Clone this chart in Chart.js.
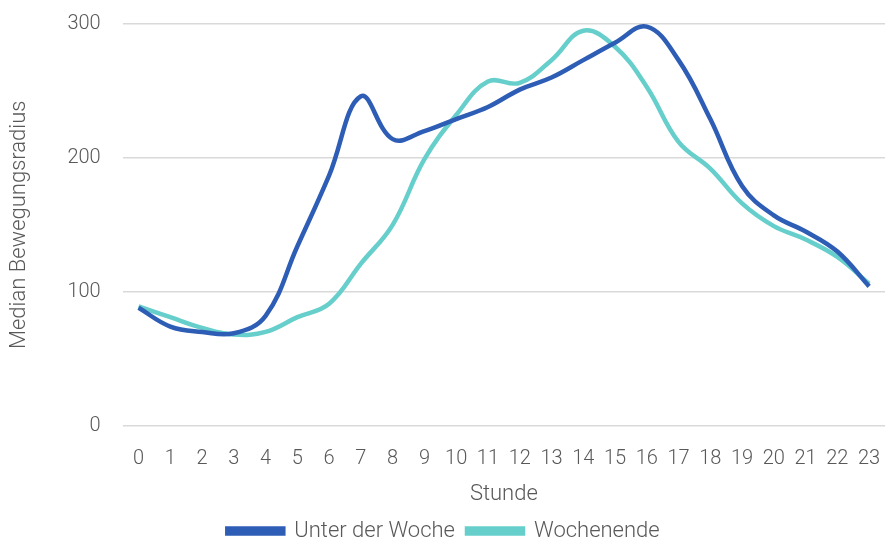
<!DOCTYPE html>
<html>
<head>
<meta charset="utf-8">
<script src="https://cdn.jsdelivr.net/npm/chart.js@4"></script>
<style>
  html, body { margin: 0; padding: 0; background: #fff; }
  #wrap { width: 885px; height: 541px; }
</style>
</head>
<body>
<div id="wrap"><canvas id="chart"></canvas></div>
<script>
const hours = ["0","1","2","3","4","5","6","7","8","9","10","11","12","13","14","15","16","17","18","19","20","21","22","23"];
const weekday = [88, 74, 70, 69, 82, 134, 187, 246, 214, 220, 229, 238, 251, 260, 273, 286, 298, 273, 229, 179, 157, 145, 130, 104];
const weekend = [89, 81, 73, 68, 70, 81, 91, 121, 150, 199, 232, 257, 256, 273, 295, 283, 253, 212, 192, 166, 149, 139, 126, 106];
const yTicks = [0, 100, 200, 300];

const fontFamily = "'Roboto', sans-serif";
const grey = "#595959";

new Chart(document.getElementById("chart"), {
    type: "line",
    data: {
        labels: hours,
        datasets: [
            {
                label: "Unter der Woche",
                data: weekday,
                borderColor: "#2E5DB6",
                backgroundColor: "#2E5DB6",
                borderWidth: 4.5,
                pointRadius: 0,
                tension: 0.4
            },
            {
                label: "Wochenende",
                data: weekend,
                borderColor: "#66CFCB",
                backgroundColor: "#66CFCB",
                borderWidth: 4.5,
                pointRadius: 0,
                tension: 0.4
            }
        ]
    },
    options: {
        responsive: true,
        maintainAspectRatio: false,
        animation: false,
        layout: { padding: { top: 0, right: 0, left: 2, bottom: -11 } },
        plugins: {
            tooltip: { enabled: false },
            legend: {
                position: "bottom",
                labels: {
                    color: grey,
                    font: { family: fontFamily, size: 22, weight: 300 },
                    boxWidth: 56,
                    boxHeight: 5,
                    padding: 12
                }
            }
        },
        scales: {
            x: {
                offset: true,
                grid: { display: false, drawTicks: true, tickLength: 21 },
                border: { display: false },
                ticks: {
                    color: grey,
                    font: { family: fontFamily, size: 20, weight: 300 },
                    maxRotation: 0,
                    autoSkip: false,
                    padding: 0
                },
                title: {
                    display: true,
                    text: "Stunde",
                    color: grey,
                    font: { family: fontFamily, size: 22, weight: 300 },
                    padding: { top: 11, bottom: 0 }
                }
            },
            y: {
                min: 0,
                max: 300,
                afterBuildTicks: axis => { axis.ticks = yTicks.map(v => ({ value: v })); },
                // keep the top gridline near the canvas edge despite the wide tick padding
                afterFit: axis => { axis.paddingTop = 24; },
                grid: { color: "#D9D9D9", lineWidth: 1.5, drawTicks: false },
                border: { display: false },
                ticks: {
                    color: grey,
                    font: { family: fontFamily, size: 20, weight: 300 },
                    padding: 22
                },
                title: {
                    display: true,
                    text: "Median Bewegungsradius",
                    color: grey,
                    font: { family: fontFamily, size: 22, weight: 300 },
                    padding: { bottom: 13 }
                }
            }
        }
    }
});
</script>
</body>
</html>
